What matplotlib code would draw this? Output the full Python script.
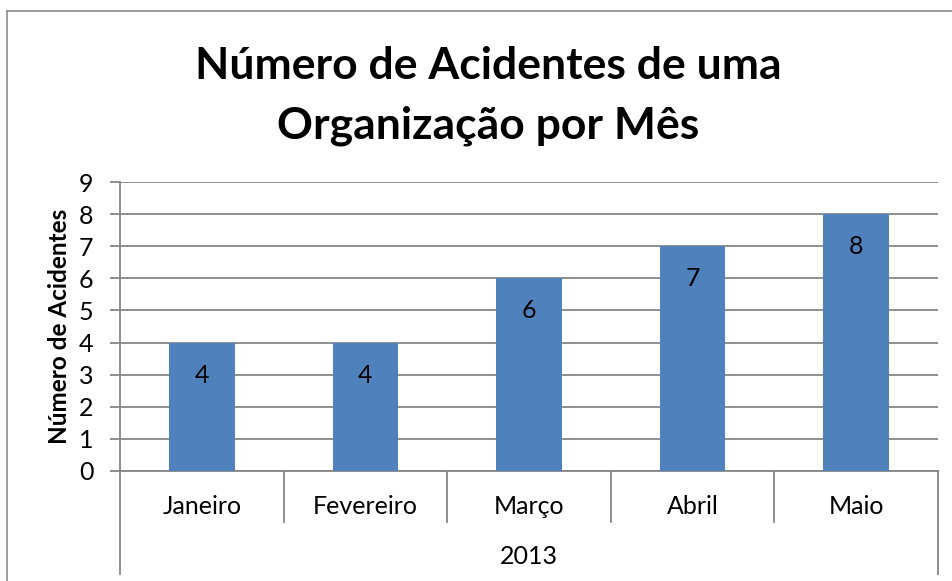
import matplotlib
matplotlib.use("Agg")
import matplotlib.pyplot as plt
from matplotlib.lines import Line2D
import numpy as np

plt.rcParams["font.family"] = ["Lato", "DejaVu Sans"]

months = ["Janeiro", "Fevereiro", "Março", "Abril", "Maio"]
accidents = [4, 4, 6, 7, 8]
year_label = "2013"
title = "Número de Acidentes de uma\nOrganização por Mês"
ylabel = "Número de Acidentes"

W, H = 953, 581
fig = plt.figure(figsize=(W / 100, H / 100), dpi=100)

# outer chart border (cropped on right and bottom like the source)
gray_border = "#8c8c8c"
fig.add_artist(Line2D([7 / W, 7 / W], [0, 1 - 11 / H], color=gray_border, lw=1.2))
fig.add_artist(Line2D([7 / W, 1], [1 - 11 / H, 1 - 11 / H], color=gray_border, lw=1.2))

left, right, top, bottom = 120 / W, 938 / W, 1 - 182 / H, 1 - 471 / H
ax = fig.add_axes([left, bottom, right - left, top - bottom])

x = np.arange(len(months)) + 0.5
ax.bar(x, accidents, width=0.4, color="#4F81BD", zorder=3)
ax.set_xlim(0, len(months))
ax.set_ylim(0, 9)
ax.set_yticks(range(0, 10))

grid_c = "#868686"
ax.yaxis.grid(True, color=grid_c, lw=1.3, zorder=0)
for s in ["top", "right"]:
    ax.spines[s].set_visible(False)
ax.spines["left"].set_color(grid_c)
ax.spines["bottom"].set_color(grid_c)
ax.spines["left"].set_linewidth(1.3)
ax.spines["bottom"].set_linewidth(1.3)
ax.tick_params(axis="y", length=7, color=grid_c, width=1.3, labelsize=18, pad=12)
ax.set_xticks([])

ax.set_ylabel(ylabel, fontsize=17.5, fontweight="bold", labelpad=6)

for xi, v in zip(x, accidents):
    ax.annotate(str(v), (xi, v), xytext=(0, -22), textcoords="offset points",
                ha="center", va="center_baseline", fontsize=18, zorder=4)

# multi-level category axis
ax_h = 471 - 182
trans = ax.get_xaxis_transform()
month_drop = -51 / ax_h
year_drop = -103 / ax_h
for i in range(len(months) + 1):
    low = year_drop if i in (0, len(months)) else month_drop
    ax.plot([i, i], [0, low], transform=trans, color=grid_c, lw=1.3, clip_on=False)
for xi, m in zip(x, months):
    ax.text(xi, -34 / ax_h, m, transform=trans, ha="center", va="center_baseline", fontsize=18)
ax.text(len(months) / 2, -84 / ax_h, year_label, transform=trans,
        ha="center", va="center_baseline", fontsize=18)

fig.text(488 / W, 1 - 96 / H, title, ha="center", va="center",
         fontsize=32, fontweight="bold", linespacing=1.62)

fig.savefig("out.png", dpi=100)
